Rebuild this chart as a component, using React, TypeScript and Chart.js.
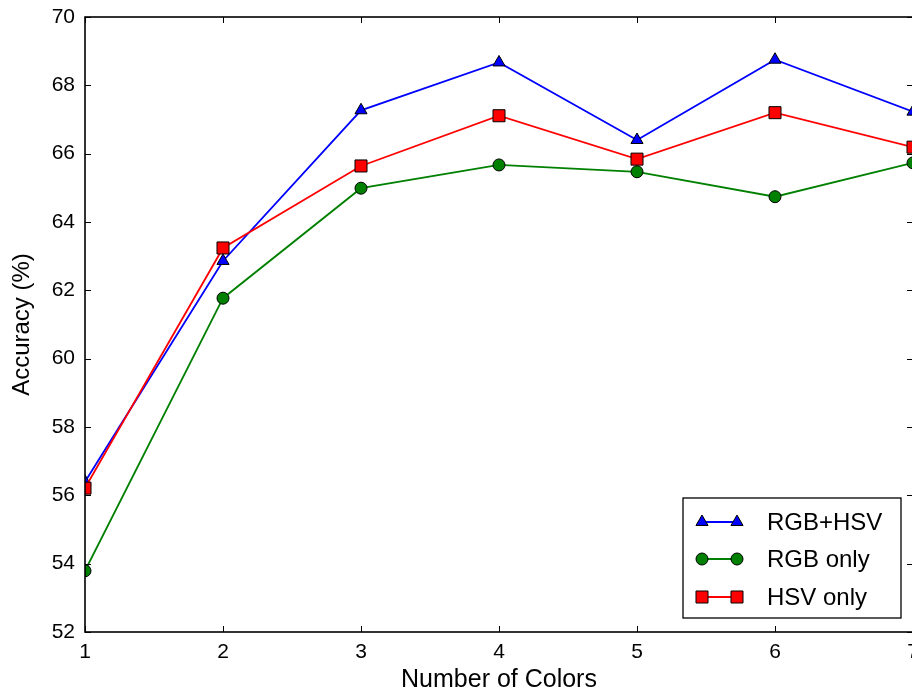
import React, { useEffect, useRef } from "react";
import { Chart, registerables } from "chart.js";

Chart.register(...registerables);

const categories = [1, 2, 3, 4, 5, 6, 7];
const rgbHsv = [56.4, 62.86, 67.27, 68.67, 66.4, 68.75, 67.23];
const rgbOnly = [53.79, 61.77, 64.99, 65.67, 65.47, 64.74, 65.73];
const hsvOnly = [56.21, 63.24, 65.64, 67.11, 65.84, 67.2, 66.19];
const seriesLabels = ["RGB+HSV", "RGB only", "HSV only"];
const yTicks = [52, 54, 56, 58, 60, 62, 64, 66, 68, 70];

const FONT = "'Liberation Sans', Arial, sans-serif";

function drawMarker(ctx: CanvasRenderingContext2D, style: string, x: number, y: number, r: number, fill: string) {
  ctx.save();
  ctx.fillStyle = fill;
  ctx.strokeStyle = "#000";
  ctx.lineWidth = 1;
  ctx.beginPath();
  if (style === "triangle") {
    ctx.moveTo(x, y - r);
    ctx.lineTo(x + r * 0.866, y + r * 0.5);
    ctx.lineTo(x - r * 0.866, y + r * 0.5);
    ctx.closePath();
  } else if (style === "circle") {
    ctx.arc(x, y, r, 0, Math.PI * 2);
  } else {
    const s = r * Math.SQRT1_2;
    ctx.rect(x - s, y - s, 2 * s, 2 * s);
  }
  ctx.fill();
  ctx.stroke();
  ctx.restore();
}

const framePlugin = {
  id: "frameTicks",
  afterDatasetsDraw(chart: any) {
    const { ctx, chartArea } = chart;
    const { left, right, top, bottom } = chartArea;
    const xs = chart.scales.x;
    const ys = chart.scales.y;
    ctx.save();
    ctx.strokeStyle = "#000";
    ctx.lineWidth = 1;
    const tl = 6;
    ctx.beginPath();
    for (const v of categories) {
      const px = Math.round(xs.getPixelForValue(v)) + 0.5;
      ctx.moveTo(px, bottom);
      ctx.lineTo(px, bottom - tl);
      ctx.moveTo(px, top);
      ctx.lineTo(px, top + tl);
    }
    for (const v of yTicks) {
      const py = Math.round(ys.getPixelForValue(v)) + 0.5;
      ctx.moveTo(left, py);
      ctx.lineTo(left + tl, py);
      ctx.moveTo(right, py);
      ctx.lineTo(right - tl, py);
    }
    ctx.stroke();
    ctx.lineWidth = 1.6;
    ctx.strokeRect(left, top, right - left, bottom - top);
    ctx.restore();
  },
  afterDraw(chart: any) {
    const { ctx, chartArea } = chart;
    const bw = 218;
    const bh = 120;
    const bx = chartArea.right - 12 - bw;
    const by = chartArea.bottom - 14 - bh;
    ctx.save();
    ctx.fillStyle = "#fff";
    ctx.fillRect(bx, by, bw, bh);
    ctx.strokeStyle = "#000";
    ctx.lineWidth = 1.3;
    ctx.strokeRect(bx, by, bw, bh);
    const dsets = chart.data.datasets;
    const rowY = [24, 61, 99];
    dsets.forEach((d: any, i: number) => {
      const y = by + rowY[i];
      const x1 = bx + 19;
      const x2 = bx + 54;
      ctx.strokeStyle = d.borderColor;
      ctx.lineWidth = 1.8;
      ctx.beginPath();
      ctx.moveTo(x1, y);
      ctx.lineTo(x2, y);
      ctx.stroke();
      drawMarker(ctx, d.pointStyle, x1, y, d.pointRadius, d.backgroundColor);
      drawMarker(ctx, d.pointStyle, x2, y, d.pointRadius, d.backgroundColor);
      ctx.fillStyle = "#000";
      ctx.font = `24px ${FONT}`;
      ctx.textBaseline = "middle";
      ctx.textAlign = "left";
      ctx.fillText(d.label, bx + 84, y + 1);
    });
    ctx.restore();
  },
};

export default function App() {
  const ref = useRef<HTMLCanvasElement | null>(null);
  useEffect(() => {
    if (!ref.current) return;
    const mk = (label: string, data: number[], color: string, style: string, r: number, order: number) => ({
      label,
      data: categories.map((c, i) => ({ x: c, y: data[i] })),
      borderColor: color,
      backgroundColor: color,
      pointBackgroundColor: color,
      pointBorderColor: "#000",
      pointBorderWidth: 1,
      pointStyle: style,
      pointRadius: r,
      borderWidth: 1.8,
      tension: 0,
      order,
    });
    const chart = new Chart(ref.current, {
      type: "line",
      data: {
        datasets: [
          mk(seriesLabels[0], rgbHsv, "#0000ff", "triangle", 7, 3),
          mk(seriesLabels[1], rgbOnly, "#008000", "circle", 6, 2),
          mk(seriesLabels[2], hsvOnly, "#ff0000", "rect", 8.5, 1),
        ],
      },
      options: {
        responsive: false,
        animation: false,
        layout: { padding: { top: 17, right: 27, left: 0, bottom: 0 } },
        plugins: { legend: { display: false }, tooltip: { enabled: false } },
        scales: {
          x: {
            type: "linear",
            min: 1,
            max: 7,
            afterFit: (s: any) => {
              s.height = 61;
              s.paddingLeft = 0;
              s.paddingRight = 0;
            },
            afterBuildTicks: (s: any) => {
              s.ticks = categories.map((v) => ({ value: v }));
            },
            grid: { display: false, drawTicks: false },
            border: { display: false },
            ticks: { color: "#000", padding: 8, font: { family: FONT, size: 21 }, maxRotation: 0 },
            title: {
              display: true,
              text: "Number of Colors",
              color: "#000",
              font: { family: FONT, size: 25, lineHeight: 1 },
              padding: { top: 0, bottom: 0 },
            },
          },
          y: {
            min: 52,
            max: 70,
            afterFit: (s: any) => {
              s.width = 85;
              s.paddingTop = 0;
              s.paddingBottom = 0;
            },
            afterBuildTicks: (s: any) => {
              s.ticks = yTicks.map((v) => ({ value: v }));
            },
            grid: { display: false, drawTicks: false },
            border: { display: false },
            ticks: { color: "#000", padding: 10, font: { family: FONT, size: 21 } },
            title: {
              display: true,
              text: "Accuracy (%)",
              color: "#000",
              font: { family: FONT, size: 24, lineHeight: 1 },
              padding: { top: 10, bottom: 0 },
            },
          },
        },
      },
      plugins: [framePlugin],
    } as any);
    return () => chart.destroy();
  }, []);
  return (
    <div style={{ position: "fixed", left: 0, top: 0, width: 912, height: 693, overflow: "hidden", background: "#fff" }}>
      <canvas ref={ref} width={940} height={693} style={{ display: "block", width: 940, height: 693 }} />
    </div>
  );
}
